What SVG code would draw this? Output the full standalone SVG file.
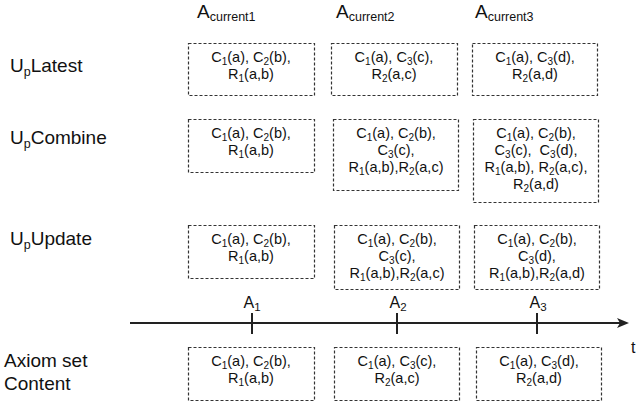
<svg xmlns="http://www.w3.org/2000/svg" width="636" height="407" viewBox="0 0 636 407">
  <style>
    text { font-family: "Liberation Sans", Arial, sans-serif; fill: #111; }
    .box { fill: #fff; stroke: #333; stroke-width: 1.2; stroke-dasharray: 3 2; }
    .bt { font-size: 14.5px; text-anchor: middle; }
    .s { font-size: 10px; }
    .lbl { font-size: 19px; }
    .ls { font-size: 12.5px; }
    .hd { font-size: 19px; }
    .hs { font-size: 12.5px; }
    .tk { font-size: 16px; text-anchor: middle; }
    .tks { font-size: 11.5px; }
    .axis { stroke: #222; stroke-width: 2; fill: none; }
  </style>
  <rect width="636" height="407" fill="#fff"/>

  <!-- column headers -->
  <g id="headers">
    <text class="hd" x="197" y="18">A<tspan class="hs" dy="3">current1</tspan></text>
    <text class="hd" x="336" y="18">A<tspan class="hs" dy="3">current2</tspan></text>
    <text class="hd" x="475" y="18">A<tspan class="hs" dy="3">current3</tspan></text>
  </g>

  <!-- row labels -->
  <g id="labels">
    <text class="lbl" x="10" y="72">U<tspan class="ls" dy="4">p</tspan><tspan dy="-4">Latest</tspan></text>
    <text class="lbl" x="10" y="144">U<tspan class="ls" dy="4">p</tspan><tspan dy="-4">Combine</tspan></text>
    <text class="lbl" x="10" y="245">U<tspan class="ls" dy="4">p</tspan><tspan dy="-4">Update</tspan></text>
    <text class="lbl" x="4" y="367">Axiom set</text>
    <text class="lbl" x="4" y="390">Content</text>
  </g>

  <!-- time axis -->
  <g id="connectors">
    <line class="axis" x1="130" y1="323" x2="624" y2="323"/>
    <path d="M617,318 L629,323 L617,328 L620,323 Z" fill="#222"/>
    <line class="axis" x1="252" y1="313" x2="252" y2="334"/>
    <line class="axis" x1="397" y1="313" x2="397" y2="334"/>
    <line class="axis" x1="537" y1="313" x2="537" y2="334"/>
    <text class="tk" x="252" y="308">A<tspan class="tks" dy="3">1</tspan></text>
    <text class="tk" x="398" y="308">A<tspan class="tks" dy="3">2</tspan></text>
    <text class="tk" x="538" y="308">A<tspan class="tks" dy="3">3</tspan></text>
    <text x="631" y="353" style="font-size:16px">t</text>
  </g>

  <!-- UpLatest row -->
  <g id="latest1">
    <rect class="box" x="188.5" y="43.5" width="126" height="52"/>
    <text class="bt" x="251" y="62">C<tspan class="s" dy="3">1</tspan><tspan dy="-3">(a), C</tspan><tspan class="s" dy="3">2</tspan><tspan dy="-3">(b),</tspan></text>
    <text class="bt" x="251" y="79">R<tspan class="s" dy="3">1</tspan><tspan dy="-3">(a,b)</tspan></text>
  </g>
  <g id="latest2">
    <rect class="box" x="331.5" y="43.5" width="126" height="52"/>
    <text class="bt" x="394" y="62">C<tspan class="s" dy="3">1</tspan><tspan dy="-3">(a), C</tspan><tspan class="s" dy="3">3</tspan><tspan dy="-3">(c),</tspan></text>
    <text class="bt" x="394" y="79">R<tspan class="s" dy="3">2</tspan><tspan dy="-3">(a,c)</tspan></text>
  </g>
  <g id="latest3">
    <rect class="box" x="472.5" y="43.5" width="125" height="52"/>
    <text class="bt" x="535" y="62">C<tspan class="s" dy="3">1</tspan><tspan dy="-3">(a), C</tspan><tspan class="s" dy="3">3</tspan><tspan dy="-3">(d),</tspan></text>
    <text class="bt" x="535" y="79">R<tspan class="s" dy="3">2</tspan><tspan dy="-3">(a,d)</tspan></text>
  </g>

  <!-- UpCombine row -->
  <g id="combine1">
    <rect class="box" x="188.5" y="119.5" width="126" height="53"/>
    <text class="bt" x="251" y="138">C<tspan class="s" dy="3">1</tspan><tspan dy="-3">(a), C</tspan><tspan class="s" dy="3">2</tspan><tspan dy="-3">(b),</tspan></text>
    <text class="bt" x="251" y="155">R<tspan class="s" dy="3">1</tspan><tspan dy="-3">(a,b)</tspan></text>
  </g>
  <g id="combine2">
    <rect class="box" x="333.5" y="119.5" width="125" height="71"/>
    <text class="bt" x="396" y="138">C<tspan class="s" dy="3">1</tspan><tspan dy="-3">(a), C</tspan><tspan class="s" dy="3">2</tspan><tspan dy="-3">(b),</tspan></text>
    <text class="bt" x="396" y="155">C<tspan class="s" dy="3">3</tspan><tspan dy="-3">(c),</tspan></text>
    <text class="bt" x="396" y="172">R<tspan class="s" dy="3">1</tspan><tspan dy="-3">(a,b),R</tspan><tspan class="s" dy="3">2</tspan><tspan dy="-3">(a,c)</tspan></text>
  </g>
  <g id="combine3">
    <rect class="box" x="473.5" y="119.5" width="125" height="83"/>
    <text class="bt" x="536" y="138">C<tspan class="s" dy="3">1</tspan><tspan dy="-3">(a), C</tspan><tspan class="s" dy="3">2</tspan><tspan dy="-3">(b),</tspan></text>
    <text class="bt" x="536" y="155">C<tspan class="s" dy="3">3</tspan><tspan dy="-3">(c),&#160; C</tspan><tspan class="s" dy="3">3</tspan><tspan dy="-3">(d),</tspan></text>
    <text class="bt" x="536" y="172">R<tspan class="s" dy="3">1</tspan><tspan dy="-3">(a,b), R</tspan><tspan class="s" dy="3">2</tspan><tspan dy="-3">(a,c),</tspan></text>
    <text class="bt" x="536" y="189">R<tspan class="s" dy="3">2</tspan><tspan dy="-3">(a,d)</tspan></text>
  </g>

  <!-- UpUpdate row -->
  <g id="update1">
    <rect class="box" x="188.5" y="225.5" width="126" height="53"/>
    <text class="bt" x="251" y="244">C<tspan class="s" dy="3">1</tspan><tspan dy="-3">(a), C</tspan><tspan class="s" dy="3">2</tspan><tspan dy="-3">(b),</tspan></text>
    <text class="bt" x="251" y="261">R<tspan class="s" dy="3">1</tspan><tspan dy="-3">(a,b)</tspan></text>
  </g>
  <g id="update2">
    <rect class="box" x="334.5" y="225.5" width="125" height="64"/>
    <text class="bt" x="397" y="244">C<tspan class="s" dy="3">1</tspan><tspan dy="-3">(a), C</tspan><tspan class="s" dy="3">2</tspan><tspan dy="-3">(b),</tspan></text>
    <text class="bt" x="397" y="261">C<tspan class="s" dy="3">3</tspan><tspan dy="-3">(c),</tspan></text>
    <text class="bt" x="397" y="278">R<tspan class="s" dy="3">1</tspan><tspan dy="-3">(a,b),R</tspan><tspan class="s" dy="3">2</tspan><tspan dy="-3">(a,c)</tspan></text>
  </g>
  <g id="update3">
    <rect class="box" x="474.5" y="225.5" width="125" height="64"/>
    <text class="bt" x="537" y="244">C<tspan class="s" dy="3">1</tspan><tspan dy="-3">(a), C</tspan><tspan class="s" dy="3">2</tspan><tspan dy="-3">(b),</tspan></text>
    <text class="bt" x="537" y="261">C<tspan class="s" dy="3">3</tspan><tspan dy="-3">(d),</tspan></text>
    <text class="bt" x="537" y="278">R<tspan class="s" dy="3">1</tspan><tspan dy="-3">(a,b),R</tspan><tspan class="s" dy="3">2</tspan><tspan dy="-3">(a,d)</tspan></text>
  </g>

  <!-- Axiom set content row -->
  <g id="axiom1">
    <rect class="box" x="188.5" y="347.5" width="126" height="53"/>
    <text class="bt" x="251" y="366">C<tspan class="s" dy="3">1</tspan><tspan dy="-3">(a), C</tspan><tspan class="s" dy="3">2</tspan><tspan dy="-3">(b),</tspan></text>
    <text class="bt" x="251" y="383">R<tspan class="s" dy="3">1</tspan><tspan dy="-3">(a,b)</tspan></text>
  </g>
  <g id="axiom2">
    <rect class="box" x="334.5" y="347.5" width="125" height="53"/>
    <text class="bt" x="397" y="366">C<tspan class="s" dy="3">1</tspan><tspan dy="-3">(a), C</tspan><tspan class="s" dy="3">3</tspan><tspan dy="-3">(c),</tspan></text>
    <text class="bt" x="397" y="383">R<tspan class="s" dy="3">2</tspan><tspan dy="-3">(a,c)</tspan></text>
  </g>
  <g id="axiom3">
    <rect class="box" x="476.5" y="347.5" width="125" height="53"/>
    <text class="bt" x="539" y="366">C<tspan class="s" dy="3">1</tspan><tspan dy="-3">(a), C</tspan><tspan class="s" dy="3">3</tspan><tspan dy="-3">(d),</tspan></text>
    <text class="bt" x="539" y="383">R<tspan class="s" dy="3">2</tspan><tspan dy="-3">(a,d)</tspan></text>
  </g>
</svg>
